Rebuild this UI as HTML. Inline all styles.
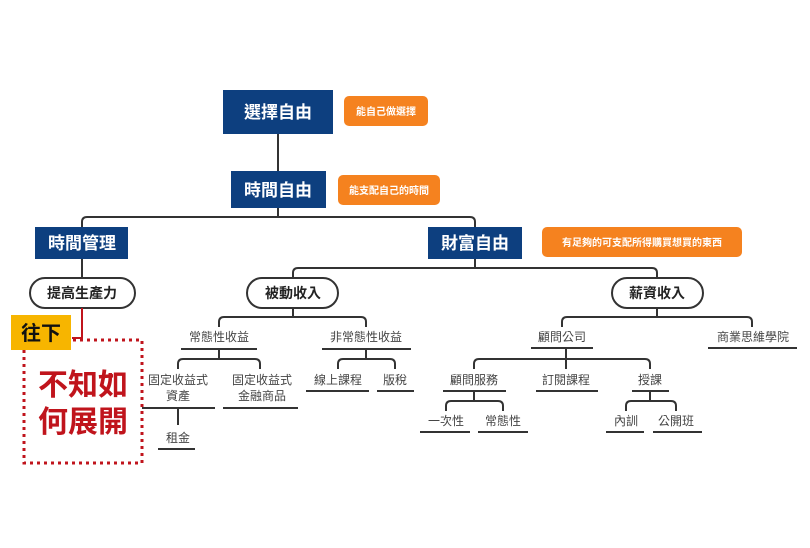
<!DOCTYPE html>
<html><head><meta charset="utf-8"><style>
html,body{margin:0;padding:0;background:#fff;}
svg text{font-family:"Liberation Sans","Noto Sans CJK TC",sans-serif;}
</style></head><body>
<svg width="810" height="543" viewBox="0 0 810 543" xmlns="http://www.w3.org/2000/svg">
<g fill="none" stroke="#333" stroke-width="2">
<line x1="278" y1="134" x2="278" y2="171"/>
<line x1="278" y1="208" x2="278" y2="217"/>
<path d="M82 227 V222 Q82 217 87 217 H470 Q475 217 475 222 V227"/>
<line x1="82" y1="259" x2="82" y2="278"/>
<line x1="475" y1="259" x2="475" y2="268"/>
<path d="M293 278 V273 Q293 268 298 268 H652 Q657 268 657 273 V278"/>
<line x1="657" y1="308" x2="657" y2="317"/>
<path d="M562 327 V322 Q562 317 567 317 H747 Q752 317 752 322 V327"/>
<line x1="566" y1="348" x2="566" y2="359"/>
<path d="M474 369 V364 Q474 359 479 359 H645 Q650 359 650 364 V369"/>
<line x1="566" y1="359" x2="566" y2="369"/>
<line x1="474" y1="391" x2="474" y2="401"/>
<path d="M446 411 V406 Q446 401 451 401 H498 Q503 401 503 406 V411"/>
<line x1="650" y1="391" x2="650" y2="401"/>
<path d="M626 411 V406 Q626 401 631 401 H671 Q676 401 676 406 V411"/>
<line x1="293" y1="308" x2="293" y2="317"/>
<path d="M219 327 V322 Q219 317 224 317 H361 Q366 317 366 322 V327"/>
<line x1="219" y1="349" x2="219" y2="359"/>
<path d="M178 369 V364 Q178 359 183 359 H255 Q260 359 260 364 V369"/>
<line x1="366" y1="349" x2="366" y2="359"/>
<path d="M338 369 V364 Q338 359 343 359 H390 Q395 359 395 364 V369"/>
<line x1="178" y1="408" x2="178" y2="425"/>
</g>
<g stroke="#333" stroke-width="2">
<line x1="531" y1="348" x2="593" y2="348"/><line x1="708" y1="348" x2="797" y2="348"/>
<line x1="443" y1="391" x2="506" y2="391"/><line x1="536" y1="391" x2="598" y2="391"/><line x1="632" y1="391" x2="669" y2="391"/>
<line x1="420" y1="432" x2="470" y2="432"/><line x1="478" y1="432" x2="528" y2="432"/>
<line x1="606" y1="432" x2="644" y2="432"/><line x1="653" y1="432" x2="702" y2="432"/>
<line x1="181" y1="349" x2="257" y2="349"/><line x1="322" y1="349" x2="411" y2="349"/>
<line x1="142" y1="408" x2="215" y2="408"/><line x1="223" y1="408" x2="298" y2="408"/>
<line x1="306" y1="391" x2="369" y2="391"/><line x1="377" y1="391" x2="414" y2="391"/>
<line x1="158" y1="449" x2="195" y2="449"/>
</g>
<g fill="#0d3f7f">
<rect x="223" y="90" width="110" height="44"/>
<rect x="231" y="171" width="95" height="37"/>
<rect x="35" y="227" width="93" height="32"/>
<rect x="428" y="227" width="94" height="32"/>
</g>
<g fill="#f5821f">
<rect x="344" y="96" width="84" height="30" rx="5"/>
<rect x="338" y="175" width="102" height="30" rx="5"/>
<rect x="542" y="227" width="200" height="30" rx="5"/>
</g>
<g fill="#fff" font-weight="bold" font-size="17" text-anchor="middle">
<text x="278" y="118">選擇自由</text>
<text x="278" y="196">時間自由</text>
<text x="82" y="249">時間管理</text>
<text x="475" y="249">財富自由</text>
</g>
<g fill="#fff" font-weight="bold" font-size="10" text-anchor="middle">
<text x="386" y="115">能自己做選擇</text>
<text x="389" y="194">能支配自己的時間</text>
<text x="642" y="246">有足夠的可支配所得購買想買的東西</text>
</g>
<g fill="#fff" stroke="#333" stroke-width="2">
<rect x="30" y="278" width="105" height="30" rx="15"/>
<rect x="247" y="278" width="91" height="30" rx="15"/>
<rect x="612" y="278" width="91" height="30" rx="15"/>
</g>
<g fill="#222" font-weight="bold" font-size="14" text-anchor="middle">
<text x="82" y="298">提高生產力</text>
<text x="293" y="298">被動收入</text>
<text x="657" y="298">薪資收入</text>
</g>
<g fill="#444" font-size="12" text-anchor="middle">
<text x="562" y="341">顧問公司</text><text x="753" y="341">商業思維學院</text>
<text x="474" y="384">顧問服務</text><text x="566" y="384">訂閱課程</text><text x="650" y="384">授課</text>
<text x="446" y="425">一次性</text><text x="503" y="425">常態性</text>
<text x="626" y="425">內訓</text><text x="676" y="425">公開班</text>
<text x="219" y="341">常態性收益</text><text x="366" y="341">非常態性收益</text>
<text x="178" y="384">固定收益式</text><text x="178" y="400">資產</text>
<text x="262" y="384">固定收益式</text><text x="262" y="400">金融商品</text>
<text x="338" y="384">線上課程</text><text x="395" y="384">版稅</text>
<text x="178" y="442">租金</text>
</g>
<path d="M82 308 V338 H72" fill="none" stroke="#c0141c" stroke-width="2"/>
<rect x="24" y="340" width="118" height="123" fill="none" stroke="#c0141c" stroke-width="3" stroke-dasharray="3 4"/>
<rect x="11" y="315" width="60" height="35" fill="#f7b500"/>
<text x="41" y="340" text-anchor="middle" font-weight="bold" font-size="20" fill="#111">往下</text>
<g fill="#c0141c" font-weight="bold" font-size="30" text-anchor="middle">
<text x="83" y="395">不知如</text>
<text x="83" y="432">何展開</text>
</g>
</svg>
</body></html>
